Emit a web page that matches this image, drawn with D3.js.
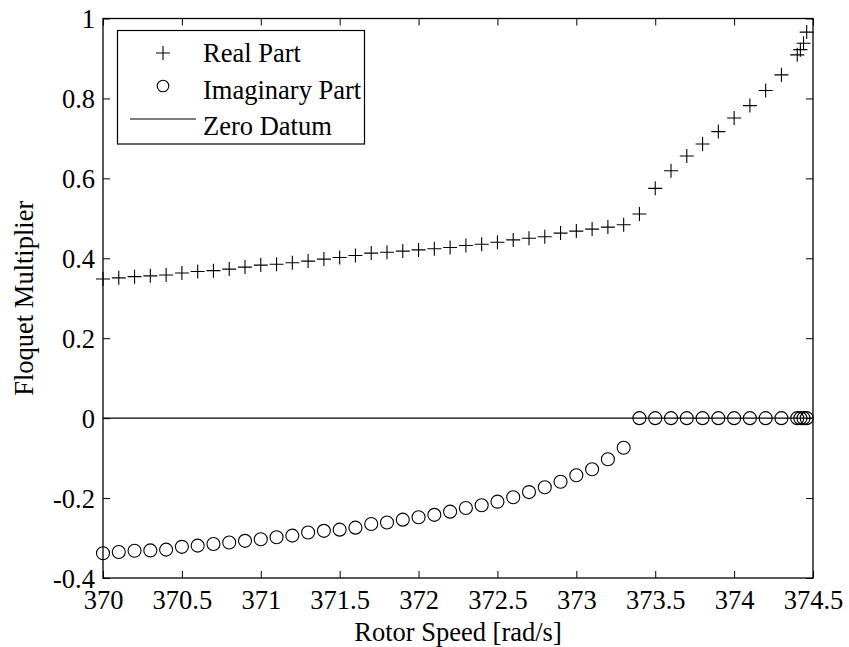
<!DOCTYPE html>
<html>
<head>
<meta charset="utf-8">
<script src="https://cdn.jsdelivr.net/npm/d3@7"></script>
<style>
  html, body { margin: 0; padding: 0; background: #fff; }
  svg text { font-family: "Liberation Serif", "Times New Roman", serif; fill: #000; }
</style>
</head>
<body>
<svg id="chart" width="849" height="647"></svg>
<script>
// Rotor speed samples [rad/s]
const rotorSpeed = [
  370.0, 370.1, 370.2, 370.3, 370.4, 370.5, 370.6, 370.7, 370.8, 370.9,
  371.0, 371.1, 371.2, 371.3, 371.4, 371.5, 371.6, 371.7, 371.8, 371.9,
  372.0, 372.1, 372.2, 372.3, 372.4, 372.5, 372.6, 372.7, 372.8, 372.9,
  373.0, 373.1, 373.2, 373.3, 373.4, 373.5, 373.6, 373.7, 373.8, 373.9,
  374.0, 374.1, 374.2, 374.3, 374.4, 374.42, 374.44, 374.46
];

// Real part of the Floquet multiplier
const realPart = [
  0.348, 0.351, 0.354, 0.356, 0.358, 0.363, 0.367, 0.369, 0.373, 0.378,
  0.383, 0.385, 0.389, 0.393, 0.398, 0.402, 0.407, 0.413, 0.415, 0.418,
  0.421, 0.424, 0.427, 0.432, 0.435, 0.440, 0.446, 0.450, 0.454, 0.463,
  0.468, 0.473, 0.478, 0.484, 0.511, 0.575, 0.619, 0.656, 0.686, 0.717,
  0.751, 0.782, 0.820, 0.859, 0.909, 0.922, 0.938, 0.966
];

// Imaginary part of the Floquet multiplier
const imagPart = [
  -0.338, -0.335, -0.332, -0.331, -0.329, -0.322, -0.319, -0.315, -0.311, -0.307,
  -0.303, -0.298, -0.294, -0.286, -0.282, -0.279, -0.274, -0.265, -0.261, -0.254,
  -0.248, -0.242, -0.234, -0.225, -0.218, -0.209, -0.198, -0.185, -0.173, -0.159,
  -0.143, -0.128, -0.103, -0.074, 0, 0, 0, 0, 0, 0,
  0, 0, 0, 0, 0, 0, 0, 0
];

// Axis ticks
const xTicks = [370, 370.5, 371, 371.5, 372, 372.5, 373, 373.5, 374, 374.5];
const yTicks = [-0.4, -0.2, 0, 0.2, 0.4, 0.6, 0.8, 1];

// Legend entries
const legendLabels = ["Real Part", "Imaginary Part", "Zero Datum"];

(function draw() {
  const svg = d3.select("#chart");
  const pLeft = 103, pRight = 813, pTop = 18.5, pBottom = 578;
  const fontSize = 26.5;

  const x = d3.scaleLinear().domain([370, 374.5]).range([pLeft, pRight]);
  const y = d3.scaleLinear().domain([-0.4, 1]).range([pBottom, pTop]);

  const tickLen = 7;

  // Bottom axis with labels, ticks pointing inward
  const gx = svg.append("g")
    .attr("transform", `translate(0,${pBottom})`)
    .call(d3.axisBottom(x).tickValues(xTicks).tickFormat(d => String(d))
      .tickSizeInner(-tickLen).tickSizeOuter(0).tickPadding(12));
  // Top mirror ticks
  const gxt = svg.append("g")
    .attr("transform", `translate(0,${pTop})`)
    .call(d3.axisTop(x).tickValues(xTicks).tickFormat("")
      .tickSizeInner(-tickLen).tickSizeOuter(0));
  // Left axis with labels
  const gy = svg.append("g")
    .attr("transform", `translate(${pLeft},0)`)
    .call(d3.axisLeft(y).tickValues(yTicks).tickFormat(d => String(d))
      .tickSizeInner(-tickLen).tickSizeOuter(0).tickPadding(8));
  // Right mirror ticks
  const gyr = svg.append("g")
    .attr("transform", `translate(${pRight},0)`)
    .call(d3.axisRight(y).tickValues(yTicks).tickFormat("")
      .tickSizeInner(-tickLen).tickSizeOuter(0));

  [gx, gxt, gy, gyr].forEach(g => {
    g.select(".domain").remove();
    g.selectAll(".tick line").attr("stroke", "#000").attr("stroke-width", 1);
    g.selectAll("text")
      .style("font-family", '"Liberation Serif", "Times New Roman", serif')
      .style("font-size", fontSize + "px")
      .attr("fill", "#000");
  });
  gx.selectAll(".tick text").attr("dy", "0.71em");
  gy.selectAll(".tick text").attr("dy", "0.35em");

  // Zero datum line
  svg.append("line")
    .attr("x1", x(370)).attr("x2", x(374.5))
    .attr("y1", y(0)).attr("y2", y(0))
    .attr("stroke", "#000").attr("stroke-width", 1.2);

  // Axes box
  svg.append("rect")
    .attr("x", pLeft).attr("y", pTop)
    .attr("width", pRight - pLeft).attr("height", pBottom - pTop)
    .attr("fill", "none").attr("stroke", "#000").attr("stroke-width", 1.3);

  const crossPath = s => `M${-s},0H${s}M0,${-s}V${s}`;

  // Real part markers
  svg.append("g").selectAll("path")
    .data(rotorSpeed.map((s, i) => [s, realPart[i]]))
    .join("path")
    .attr("transform", d => `translate(${x(d[0])},${y(d[1])})`)
    .attr("d", crossPath(7))
    .attr("fill", "none").attr("stroke", "#000").attr("stroke-width", 1.1);

  // Imaginary part markers
  svg.append("g").selectAll("circle")
    .data(rotorSpeed.map((s, i) => [s, imagPart[i]]))
    .join("circle")
    .attr("cx", d => x(d[0])).attr("cy", d => y(d[1]))
    .attr("r", 6.5)
    .attr("fill", "none").attr("stroke", "#000").attr("stroke-width", 1.1);

  // Legend
  const lg = svg.append("g");
  lg.append("rect")
    .attr("x", 117.5).attr("y", 30.5).attr("width", 247).attr("height", 113.5)
    .attr("fill", "#fff").attr("stroke", "#000").attr("stroke-width", 1.2);
  const markerY = [53, 86, 119];
  const textY = [62, 98.5, 135];
  lg.append("path")
    .attr("transform", `translate(163,${markerY[0]})`)
    .attr("d", crossPath(7))
    .attr("fill", "none").attr("stroke", "#000").attr("stroke-width", 1.1);
  lg.append("circle")
    .attr("cx", 163).attr("cy", markerY[1]).attr("r", 5.8)
    .attr("fill", "none").attr("stroke", "#000").attr("stroke-width", 1.1);
  lg.append("line")
    .attr("x1", 130).attr("x2", 196).attr("y1", markerY[2]).attr("y2", markerY[2])
    .attr("stroke", "#000").attr("stroke-width", 1.1);
  lg.selectAll("text.lab")
    .data(legendLabels)
    .join("text")
    .attr("class", "lab")
    .attr("x", 203).attr("y", (d, i) => textY[i])
    .style("font-size", fontSize + "px")
    .text(d => d);

  // Axis titles
  svg.append("text")
    .attr("x", (pLeft + pRight) / 2).attr("y", 641)
    .attr("text-anchor", "middle")
    .style("font-size", fontSize + "px")
    .text("Rotor Speed [rad/s]");
  svg.append("text")
    .attr("transform", `translate(33,${(pTop + pBottom) / 2}) rotate(-90)`)
    .attr("text-anchor", "middle")
    .style("font-size", fontSize + "px")
    .text("Floquet Multiplier");
})();
</script>
</body>
</html>
